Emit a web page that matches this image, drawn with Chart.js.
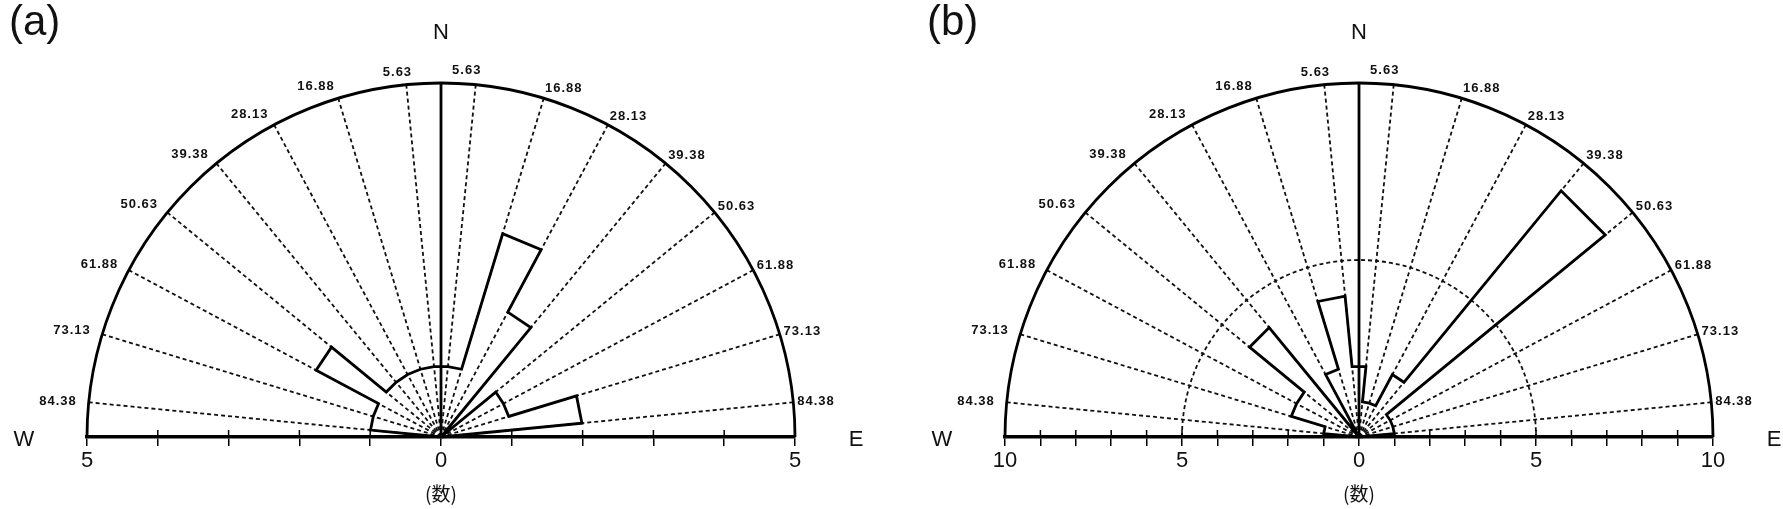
<!DOCTYPE html>
<html>
<head>
<meta charset="utf-8">
<script src="https://cdn.jsdelivr.net/npm/chart.js@4.4.1/dist/chart.umd.min.js"></script>
<style>
  html, body { margin: 0; padding: 0; background: #fff; }
  canvas { position: absolute; top: 0; }
  #ca { left: 0; }
  #cb { left: 891px; }
</style>
</head>
<body>
<canvas id="ca" width="891" height="509"></canvas>
<canvas id="cb" width="892" height="509"></canvas>
<script>
/* Halbrosen-Diagramme (a) und (b): Richtung ab N, W = -90, E = +90 */

// Sektorgrenzen (Grad ab N), auf beiden Seiten beschriftet
const ANGLE_TICKS = [5.63, 16.88, 28.13, 39.38, 50.63, 61.88, 73.13, 84.38];

// Anzahl je Sektor von W nach E; erster/letzter = halbe Sektoren an der Grundlinie
const COUNTS_A = [0, 1, 1, 2, 1, 1, 1, 1, 1, 1, 3, 2, 0, 1, 1, 2, 0];
const COUNTS_B = [0, 1, 2, 2, 4, 0, 2, 4, 2, 1, 1, 2, 9, 1, 1, 1, 0];

const MAX_A = 5, MAX_B = 10;
const RINGS_A = [], RINGS_B = [5];
const XLABELS_A = [-5, 0, 5];
const XLABELS_B = [-10, -5, 0, 5, 10];

const EDGES = [-90, ...ANGLE_TICKS.slice().reverse().map((a) => -a), ...ANGLE_TICKS, 90];
const RAD = Math.PI / 180;
const FONT = '"Liberation Sans", Arial, sans-serif';

function outline(counts) {
  const pts = [{ x: 0, y: 0 }];
  counts.forEach((v, i) => {
    [EDGES[i], EDGES[i + 1]].forEach((a) => {
      pts.push({ x: v * Math.sin(a * RAD), y: v * Math.cos(a * RAD) });
    });
  });
  pts.push({ x: 0, y: 0 });
  return pts;
}

/* Rahmen: Halbkreis, N-Linie, gestrichelte Strahlen/Ringe, Winkelbeschriftung */
const roseFrame = {
  id: "roseFrame",
  beforeDatasetsDraw(chart, args, opts) {
    const ctx = chart.ctx, xs = chart.scales.x, ys = chart.scales.y;
    const cx = xs.getPixelForValue(0), cy = ys.getPixelForValue(0);
    const rx = xs.getPixelForValue(opts.max) - cx, ry = cy - ys.getPixelForValue(opts.max);
    ctx.save();
    ctx.strokeStyle = "#111";
    ctx.lineWidth = 1.8;
    ctx.setLineDash([4, 3]);
    ANGLE_TICKS.forEach((a) => [-a, a].forEach((d) => {
      ctx.beginPath();
      ctx.moveTo(cx, cy);
      ctx.lineTo(cx + rx * Math.sin(d * RAD), cy - ry * Math.cos(d * RAD));
      ctx.stroke();
    }));
    opts.rings.forEach((v) => {
      ctx.beginPath();
      ctx.ellipse(cx, cy, rx * v / opts.max, ry * v / opts.max, 0, Math.PI, 2 * Math.PI);
      ctx.stroke();
    });
    ctx.setLineDash([]);
    ctx.strokeStyle = "#000";
    ctx.lineWidth = 2.8;
    ctx.beginPath();
    ctx.ellipse(cx, cy, rx, ry, 0, Math.PI, 2 * Math.PI);
    ctx.stroke();
    ctx.beginPath();
    ctx.moveTo(cx, cy);
    ctx.lineTo(cx, cy - ry);
    ctx.stroke();
    // Teilstriche auch oberhalb der Achse
    ctx.lineWidth = 1.5;
    xs.ticks.forEach((t) => {
      const px = xs.getPixelForValue(t.value);
      ctx.beginPath();
      ctx.moveTo(px, cy);
      ctx.lineTo(px, cy - 7);
      ctx.stroke();
    });
    ctx.fillStyle = "#111";
    ctx.font = "bold 13px " + FONT;
    ctx.letterSpacing = "1px";
    ctx.textBaseline = "middle";
    ANGLE_TICKS.forEach((a, i) => {
      const s = Math.sin(a * RAD), c = Math.cos(a * RAD);
      const top = i === 0; // 5.63 sitzt dichter an der N-Linie
      ctx.textAlign = "right";
      ctx.fillText(a.toFixed(2), cx - (rx + 12) * s + (top ? 7 : 0), cy - (ry + 12) * c);
      ctx.textAlign = "left";
      ctx.fillText(a.toFixed(2), cx + (rx + 4) * s - (top ? 24 : 0), cy - (ry + 10) * c - (top ? 4 : 0));
    });
    ctx.restore();
  },
  afterDraw(chart, args, opts) {
    const ctx = chart.ctx, xs = chart.scales.x, ys = chart.scales.y;
    const cx = xs.getPixelForValue(0), cy = ys.getPixelForValue(0);
    ctx.save();
    ctx.fillStyle = "#111";
    ctx.letterSpacing = "0px";
    ctx.font = "42px " + FONT;
    ctx.textAlign = "left";
    ctx.textBaseline = "alphabetic";
    ctx.fillText(opts.tag, opts.tagX, 35);
    ctx.font = "22px " + FONT;
    ctx.textAlign = "center";
    ctx.textBaseline = "middle";
    ctx.fillText("N", cx, 33);
    ctx.fillText("W", xs.left - 63, cy + 3);
    ctx.fillText("E", xs.right + 61, cy + 3);
    ctx.restore();
  },
};

function makeRose(canvasId, { counts, max, rings, labels, tag, tagX, pad }) {
  return new Chart(document.getElementById(canvasId), {
    type: "scatter",
    data: {
      datasets: [{
        data: outline(counts),
        showLine: true,
        borderColor: "#000",
        borderWidth: 2.8,
        borderJoinStyle: "miter",
        pointRadius: 0,
        fill: false,
        tension: 0,
        clip: false,
      }],
    },
    options: {
      responsive: false,
      animation: false,
      layout: { padding: pad },
      plugins: {
        legend: { display: false },
        tooltip: { enabled: false },
        roseFrame: { max, rings, tag, tagX },
      },
      scales: {
        x: {
          type: "linear",
          min: -max,
          max: max,
          afterFit: (s) => { s.height = 72; },
          ticks: {
            stepSize: 1,
            autoSkip: false,
            maxRotation: 0,
            color: "#111",
            padding: 4,
            font: { size: 22, family: FONT, lineHeight: 1 },
            callback: (v) => (labels.includes(v) ? String(Math.abs(v)) : ""),
          },
          grid: { drawOnChartArea: false, drawTicks: true, tickLength: 9, color: "#000", lineWidth: 1.5 },
          border: { display: true, color: "#000", width: 3.5 },
          title: {
            display: true,
            text: "(数)",
            color: "#111",
            font: { size: 19, family: '"Noto Sans CJK JP", sans-serif', lineHeight: 1.2 },
            padding: { top: 0, bottom: 4 },
          },
        },
        y: { type: "linear", min: 0, max: max, display: false },
      },
    },
    plugins: [roseFrame],
  });
}

makeRose("ca", {
  counts: COUNTS_A, max: MAX_A, rings: RINGS_A, labels: XLABELS_A,
  tag: "(a)", tagX: 9, pad: { left: 87, right: 96, top: 83, bottom: 0 },
});
makeRose("cb", {
  counts: COUNTS_B, max: MAX_B, rings: RINGS_B, labels: XLABELS_B,
  tag: "(b)", tagX: 36, pad: { left: 114, right: 70, top: 83, bottom: 0 },
});
</script>
</body>
</html>
